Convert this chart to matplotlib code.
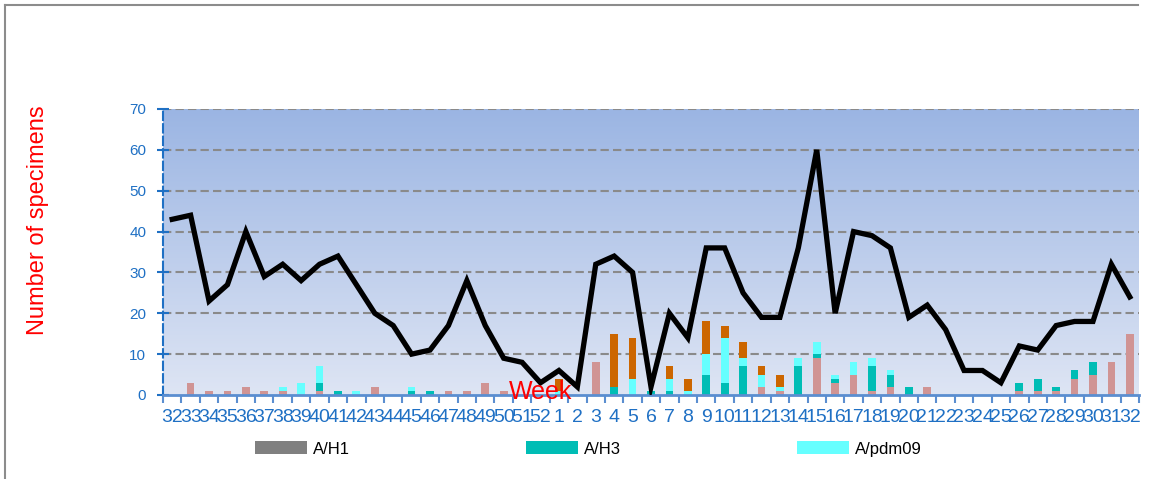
import numpy as np
import matplotlib
matplotlib.use("Agg")
import matplotlib.pyplot as plt
from matplotlib.colors import LinearSegmentedColormap
from matplotlib.patches import Patch
from matplotlib.lines import Line2D

plt.rcParams['font.family'] = ['Liberation Sans', 'DejaVu Sans']

weeks = [str(w) for w in list(range(32, 53)) + list(range(1, 33))]

total = [43, 44, 23, 27, 40, 29, 32, 28, 32, 34, 27, 20, 17, 10, 11, 17, 28, 17, 9, 8, 3,
         6, 2, 32, 34, 30, 2, 20, 14, 36, 36, 25, 19, 19, 36, 60, 20, 40, 39, 36, 19, 22,
         16, 6, 6, 3, 12, 11, 17, 18, 18, 32, 24]

a_unsub = [0, 3, 1, 1, 2, 1, 1, 0, 1, 0, 0, 2, 0, 0, 0, 1, 1, 3, 1, 0, 0,
           0, 0, 8, 0, 0, 0, 0, 0, 0, 0, 0, 2, 1, 0, 9, 3, 5, 1, 2, 0, 2,
           0, 0, 0, 0, 1, 1, 1, 4, 5, 8, 15]
a_h1 = [0] * 53
a_h3 = [0, 0, 0, 0, 0, 0, 0, 0, 2, 1, 0, 0, 0, 1, 1, 0, 0, 0, 0, 0, 0,
        0, 0, 0, 2, 0, 1, 1, 0, 5, 3, 7, 0, 0, 7, 1, 1, 0, 6, 3, 2, 0,
        0, 0, 0, 0, 2, 3, 1, 2, 3, 0, 0]
a_pdm09 = [0, 0, 0, 0, 0, 0, 1, 3, 4, 0, 1, 0, 0, 1, 0, 0, 0, 0, 0, 0, 0,
           1, 0, 0, 0, 4, 0, 3, 1, 5, 11, 2, 3, 1, 2, 3, 1, 3, 2, 1, 0, 0,
           0, 0, 0, 0, 0, 0, 0, 0, 0, 0, 0]
b_type = [0, 0, 0, 0, 0, 0, 0, 0, 0, 0, 0, 0, 0, 0, 0, 0, 0, 0, 0, 0, 0,
          3, 0, 0, 13, 10, 0, 3, 3, 8, 3, 4, 2, 3, 0, 0, 0, 0, 0, 0, 0, 0,
          0, 0, 0, 0, 0, 0, 0, 0, 0, 0, 0]

W, H = 1149, 479
fig = plt.figure(figsize=(W / 100, H / 100), dpi=100)
fig.patch.set_facecolor('white')
ax = fig.add_axes([163 / W, 1 - 395 / H, (1139 - 163) / W, (395 - 109) / H])

x = np.arange(len(weeks))
blue = '#1F70C4'

# gradient background
cmap = LinearSegmentedColormap.from_list('bg', ['#DEE5F4', '#9BB5E3'])
ax.imshow(np.linspace(0, 1, 256).reshape(-1, 1), cmap=cmap, origin='lower',
          extent=(-0.5, len(weeks) - 0.5, 0, 70), aspect='auto', zorder=0)

# grid
for yv in range(10, 71, 10):
    ax.axhline(yv, color='#8A8A8A', lw=1.5, ls=(0, (4, 2)), zorder=1)

bw = 0.42
bottom = np.zeros(len(weeks))
series = [(a_unsub, '#D09494'), (a_h1, '#808080'), (a_h3, '#00BDB5'),
          (a_pdm09, '#66FFFF'), (b_type, '#CC6600')]
for vals, col in series:
    v = np.array(vals, dtype=float)
    ax.bar(x, v, bw, bottom=bottom, color=col, zorder=2, linewidth=0)
    bottom += v

ax.plot(x, total, color='black', lw=3.8, solid_joinstyle='miter', zorder=3)

ax.set_xlim(-0.5, len(weeks) - 0.5)
ax.set_ylim(0, 70)
ax.set_yticks(range(0, 71, 10))
ax.tick_params(axis='y', colors=blue, labelsize=11, direction='inout', length=8,
               width=1.5, pad=8)
ax.set_xticks(x)
ax.set_xticklabels(weeks)
ax.tick_params(axis='x', which='major', length=0, labelsize=14, labelcolor=blue, pad=10)
ax.set_xticks(np.arange(-0.5, len(weeks), 1), minor=True)
ax.tick_params(axis='x', which='minor', length=6, width=1.5, color='#5B8ED0', direction='out')

for s in ['top', 'right']:
    ax.spines[s].set_visible(False)
ax.spines['left'].set_color(blue)
ax.spines['left'].set_linestyle((0, (4, 2)))
ax.spines['left'].set_linewidth(1.5)
ax.spines['bottom'].set_color('#5B8ED0')
ax.spines['bottom'].set_linewidth(2)

fig.text(38 / W, 1 - 220 / H, 'Number of specimens', color='red', fontsize=17,
         rotation=90, ha='center', va='center')

ax.text(20, -1, 'Week', color='red', fontsize=18, ha='center', va='baseline',
        zorder=5, clip_on=False)

# legend
handles = [Patch(facecolor='#808080', label='A/H1'),
           Patch(facecolor='#00BDB5', label='A/H3'),
           Patch(facecolor='#66FFFF', label='A/pdm09')]
fig.legend(handles=handles, loc='center left', bbox_to_anchor=(255 / W, 1 - 449 / H),
           ncol=3, frameon=False, fontsize=12, borderpad=0, borderaxespad=0,
           handlelength=3.1, handleheight=0.8, handletextpad=0.35, columnspacing=10.6)

# outer frame lines
fig.add_artist(Line2D([5 / W, 1138 / W], [1 - 5 / H, 1 - 5 / H], color='#8C8C8C', lw=1.5))
fig.add_artist(Line2D([5 / W, 5 / W], [1 - 5 / H, 0], color='#8C8C8C', lw=1.5))

fig.savefig('out.png', dpi=100)
